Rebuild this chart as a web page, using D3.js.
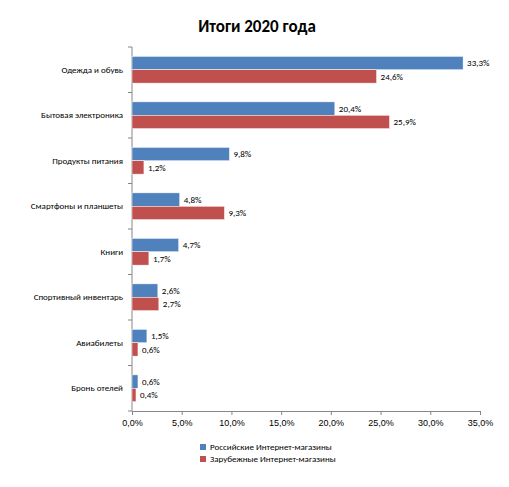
<!DOCTYPE html>
<html><head><meta charset="utf-8">
<script src="https://cdn.jsdelivr.net/npm/d3@7"></script>
<style>body{margin:0;background:#fff}</style>
</head><body>
<script>
var categories = ['Одежда и обувь', 'Бытовая электроника', 'Продукты питания', 'Смартфоны и планшеты',
                  'Книги', 'Спортивный инвентарь', 'Авиабилеты', 'Бронь отелей'];
var russian = [33.3, 20.4, 9.8, 4.8, 4.7, 2.6, 1.5, 0.6];
var foreign = [24.6, 25.9, 1.2, 9.3, 1.7, 2.7, 0.6, 0.4];
var ticks = [0, 5, 10, 15, 20, 25, 30, 35];
var seriesNames = ['Российские Интернет-магазины', 'Зарубежные Интернет-магазины'];
var colors = ['#4f81bd', '#c0504d'];

var svg = d3.select('body').append('svg')
    .attr('width', 509).attr('height', 487)
    .style('font-family', 'Calibri, Carlito, "Liberation Sans", Arial, sans-serif');

var fmt = function(v) { return v.toFixed(1).replace('.', ',') + '%'; };

var x = d3.scaleLinear().domain([0, 35]).range([132, 480]);
var y = d3.scaleBand().domain(categories).range([47, 411]);
var sub = d3.scaleBand().domain([0, 1]).range([0, y.bandwidth()]).paddingOuter(0.7).paddingInner(0);

svg.append('text').attr('x', 257).attr('y', 32).attr('text-anchor', 'middle')
    .attr('font-size', 17).attr('font-weight', 'bold').attr('fill', '#000').text('Итоги 2020 года');

// x axis
var xAxis = svg.append('g').attr('transform', 'translate(0,411)')
    .call(d3.axisBottom(x).tickValues(ticks).tickFormat(fmt).tickSize(4));
xAxis.select('.domain').attr('stroke', '#868686');
xAxis.selectAll('line').attr('stroke', '#868686');
xAxis.selectAll('text').attr('font-size', 9).attr('fill', '#000').attr('dy', '0.9em');

// y axis
svg.append('line').attr('x1', 132).attr('x2', 132).attr('y1', 47).attr('y2', 411).attr('stroke', '#868686');
svg.selectAll('.ytick').data(categories.concat(['end'])).enter().append('line')
    .attr('x1', 128).attr('x2', 132)
    .attr('y1', function(d, i) { return 47 + i * y.step(); })
    .attr('y2', function(d, i) { return 47 + i * y.step(); })
    .attr('stroke', '#868686');
svg.selectAll('.ylab').data(categories).enter().append('text')
    .attr('x', 123).attr('y', function(d) { return y(d) + y.bandwidth() / 2; })
    .attr('dy', '0.35em').attr('text-anchor', 'end').attr('font-size', 9).text(function(d) { return d; });

[russian, foreign].forEach(function(vals, s) {
  var g = svg.append('g');
  g.selectAll('rect').data(vals).enter().append('rect')
    .attr('x', x(0))
    .attr('y', function(d, i) { return y(categories[i]) + sub(s); })
    .attr('width', function(d) { return x(d) - x(0); })
    .attr('height', sub.bandwidth())
    .attr('fill', colors[s]).attr('stroke', '#fff').attr('stroke-width', 0.5);
  g.selectAll('text').data(vals).enter().append('text')
    .attr('x', function(d) { return x(d) + 4; })
    .attr('y', function(d, i) { return y(categories[i]) + sub(s) + sub.bandwidth() / 2; })
    .attr('dy', '0.35em').attr('font-size', 9).text(fmt);
});

// legend
var leg = svg.append('g');
seriesNames.forEach(function(n, i) {
  leg.append('rect').attr('x', 200).attr('y', 444 + i * 12).attr('width', 6).attr('height', 6).attr('fill', colors[i]);
  leg.append('text').attr('x', 210).attr('y', 447 + i * 12).attr('dy', '0.35em').attr('font-size', 9).text(n);
});
</script>
</body></html>
